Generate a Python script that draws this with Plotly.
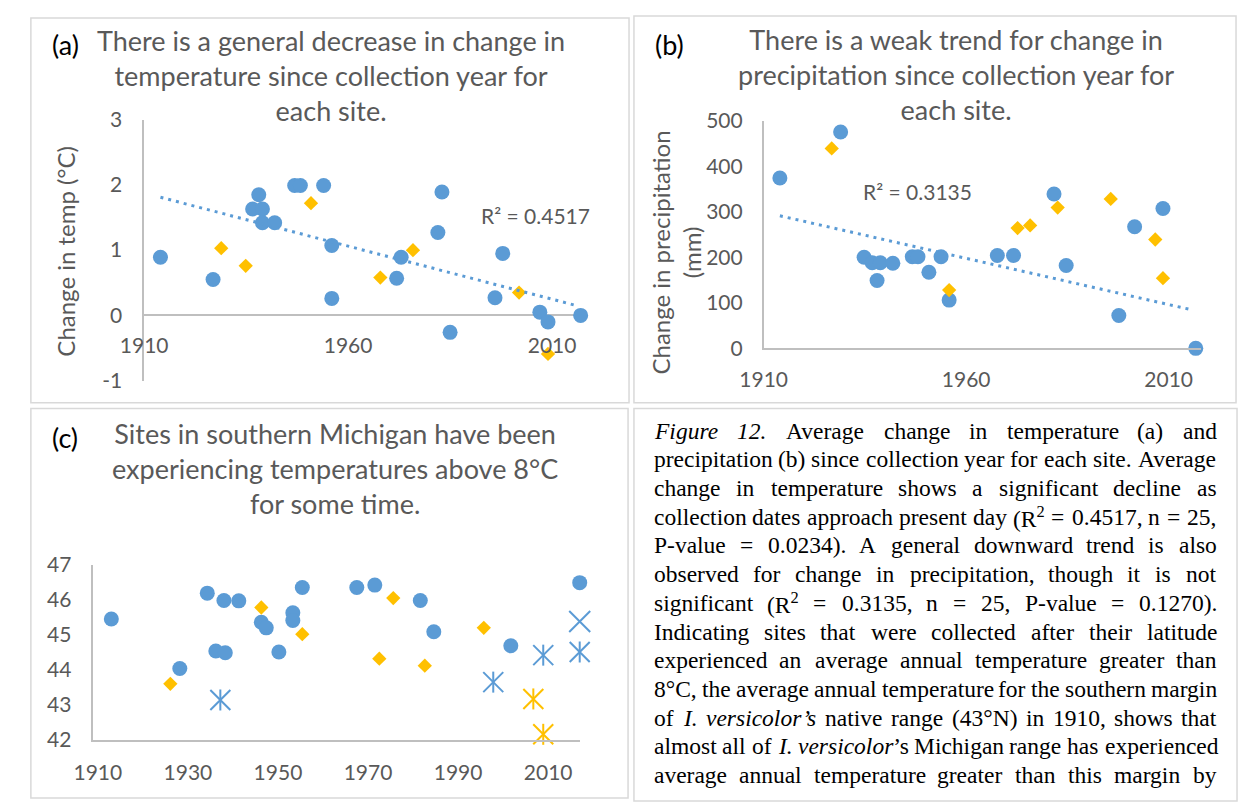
import re
import plotly.graph_objects as go

W, H = 1238, 811
BLUE = "#5B9BD5"
YEL = "#FFC000"
GREY = "#595959"
AXC = "#BFBFBF"
BORDER = "#D9D9D9"
FONT = "Lato"

# ---------------- Panel (a): change in temperature ----------------
a_blue_year = [1914, 1926.9, 1936.6, 1938.1, 1939, 1939, 1942, 1946.9, 1948.3, 1954, 1956, 1956,
               1971.9, 1973, 1982, 1983, 1985, 1996, 1997.9, 2007, 2009, 2017]
a_blue_dtemp = [0.89, 0.55, 1.63, 1.85, 1.63, 1.42, 1.42, 1.99, 1.99, 1.99, 1.07, 0.26,
                0.57, 0.89, 1.27, 1.89, -0.26, 0.27, 0.95, 0.05, -0.10, 0.0]
a_yel_year = [1928.9, 1934.9, 1950.9, 1967.9, 1975.9, 2001.9, 2009]
a_yel_dtemp = [1.03, 0.76, 1.72, 0.58, 1.00, 0.35, -0.59]
a_trend_year = [1914, 2016]
a_trend_dtemp = [1.81, 0.15]
a_ticks_x = [1910, 1960, 2010]
a_ticks_y = [-1, 0, 1, 2, 3]
a_ticktext_y = ["-1", "0", "1", "2", "3"]

# ---------------- Panel (b): change in precipitation ----------------
b_blue_year = [1914, 1929, 1934.8, 1936.8, 1938, 1938.8, 1941.9, 1946.7, 1948.1, 1950.8, 1953.8,
               1955.8, 1967.7, 1971.7, 1981.7, 1984.7, 1997.7, 2001.6, 2008.6, 2016.7]
b_blue_dprecip = [374, 475, 200, 188, 149, 188, 187, 201, 201, 167, 201,
                  106, 204, 204, 339, 182, 72, 267, 307, 0]
b_yel_year = [1926.8, 1955.8, 1972.7, 1975.8, 1982.6, 1995.7, 2006.7, 2008.6]
b_yel_dprecip = [439, 128, 264, 270, 309, 328, 239, 154]
b_trend_year = [1914, 2015.5]
b_trend_dprecip = [291, 85]
b_ticks_x = [1910, 1960, 2010]
b_ticks_y = [0, 100, 200, 300, 400, 500]

# ---------------- Panel (c): latitude of sites ----------------
c_blue_year = [1913, 1928.2, 1934.3, 1936.2, 1938.3, 1938, 1941.3, 1946.3, 1947.4, 1950.2, 1953.3,
               1953.3, 1955.4, 1967.5, 1971.5, 1981.6, 1984.6, 2001.7, 2017]
c_blue_lat = [45.45, 44.04, 46.19, 44.54, 44.49, 45.98, 45.97, 45.36, 45.20, 44.51, 45.63,
              45.41, 46.35, 46.35, 46.42, 45.98, 45.09, 44.69, 46.49]
c_yel_year = [1926.1, 1946.3, 1955.4, 1972.5, 1975.6, 1982.6, 1995.7]
c_yel_lat = [43.60, 45.78, 45.02, 44.32, 46.05, 44.12, 45.20]
c_bstar_year = [1937.2, 1997.8, 2008.9, 2017]
c_bstar_lat = [43.14, 43.65, 44.42, 44.51]
c_bx_year = [2017]
c_bx_lat = [45.38]
c_ystar_year = [2006.7, 2008.9]
c_ystar_lat = [43.17, 42.16]
c_ticks_x = [1910, 1930, 1950, 1970, 1990, 2010]
c_ticks_y = [42, 43, 44, 45, 46, 47]

titles = {
    "a": "There is a general decrease in change in<br>temperature since collection year for<br>each site.",
    "b": "There is a weak trend for change in<br>precipitation since collection year for<br>each site.",
    "c": "Sites in southern Michigan have been<br>experiencing temperatures above 8°C<br>for some time.",
}
r2_a = "R² = 0.4517"
r2_b = "R² = 0.3135"

caption_lines = [
    "<i>Figure 12.</i> Average change in temperature (a) and",
    "precipitation (b) since collection year for each site. Average",
    "change in temperature shows a significant decline as",
    "collection dates approach present day (R<sup>2</sup> = 0.4517, n = 25,",
    "P-value = 0.0234). A general downward trend is also",
    "observed for change in precipitation, though it is not",
    "significant (R<sup>2</sup> = 0.3135, n = 25, P-value = 0.1270).",
    "Indicating sites that were collected after their latitude",
    "experienced an average annual temperature greater than",
    "8°C, the average annual temperature for the southern margin",
    "of <i>I. versicolor’s</i> native range (43°N) in 1910, shows that",
    "almost all of <i>I. versicolor</i>’s Michigan range has experienced",
    "average annual temperature greater than this margin by",
]


def px(x):
    return x / W


def py(y):
    return 1 - y / H


fig = go.Figure()

# ---- traces (a)
fig.add_trace(go.Scatter(x=a_blue_year, y=a_blue_dtemp, mode="markers", xaxis="x", yaxis="y",
                         marker=dict(symbol="circle", size=15, color=BLUE, line=dict(width=0)),
                         cliponaxis=False, showlegend=False))
fig.add_trace(go.Scatter(x=a_yel_year, y=a_yel_dtemp, mode="markers", xaxis="x", yaxis="y",
                         marker=dict(symbol="diamond", size=11, color=YEL, line=dict(width=0)),
                         cliponaxis=False, showlegend=False))
fig.add_trace(go.Scatter(x=a_trend_year, y=a_trend_dtemp, mode="lines", xaxis="x", yaxis="y",
                         line=dict(color=BLUE, width=3, dash="3px,5px"), showlegend=False))

# ---- traces (b)
fig.add_trace(go.Scatter(x=b_blue_year, y=b_blue_dprecip, mode="markers", xaxis="x2", yaxis="y2",
                         marker=dict(symbol="circle", size=15, color=BLUE, line=dict(width=0)),
                         cliponaxis=False, showlegend=False))
fig.add_trace(go.Scatter(x=b_yel_year, y=b_yel_dprecip, mode="markers", xaxis="x2", yaxis="y2",
                         marker=dict(symbol="diamond", size=11, color=YEL, line=dict(width=0)),
                         cliponaxis=False, showlegend=False))
fig.add_trace(go.Scatter(x=b_trend_year, y=b_trend_dprecip, mode="lines", xaxis="x2", yaxis="y2",
                         line=dict(color=BLUE, width=3, dash="3px,5px"), showlegend=False))

# ---- traces (c)
fig.add_trace(go.Scatter(x=c_blue_year, y=c_blue_lat, mode="markers", xaxis="x3", yaxis="y3",
                         marker=dict(symbol="circle", size=15, color=BLUE, line=dict(width=0)),
                         cliponaxis=False, showlegend=False))
fig.add_trace(go.Scatter(x=c_yel_year, y=c_yel_lat, mode="markers", xaxis="x3", yaxis="y3",
                         marker=dict(symbol="diamond", size=11, color=YEL, line=dict(width=0)),
                         cliponaxis=False, showlegend=False))
for xs, ys, col in [(c_bstar_year, c_bstar_lat, BLUE), (c_ystar_year, c_ystar_lat, YEL)]:
    fig.add_trace(go.Scatter(x=xs, y=ys, mode="markers", xaxis="x3", yaxis="y3",
                             marker=dict(symbol="x-thin-open", size=20, color=col,
                                         line=dict(width=2, color=col)),
                             cliponaxis=False, showlegend=False))
    fig.add_trace(go.Scatter(x=xs, y=ys, mode="markers", xaxis="x3", yaxis="y3",
                             marker=dict(symbol="line-ns-open", size=15, color=col,
                                         line=dict(width=2, color=col)),
                             cliponaxis=False, showlegend=False))
fig.add_trace(go.Scatter(x=c_bx_year, y=c_bx_lat, mode="markers", xaxis="x3", yaxis="y3",
                         marker=dict(symbol="x-thin-open", size=21, color=BLUE,
                                     line=dict(width=2, color=BLUE)),
                         cliponaxis=False, showlegend=False))

tickfont = dict(family=FONT, size=21, color=GREY)

# ---- axes
fig.update_layout(
    xaxis=dict(domain=[px(122.5), px(573.9)], range=[1910, 2018.5], anchor="free", position=py(311),
               tickvals=a_ticks_x, showline=False, zeroline=False, showgrid=False, ticks="",
               tickfont=tickfont, ticklabelstandoff=16),
    yaxis=dict(domain=[py(378.3), py(109)], range=[-1, 3], tickvals=a_ticks_y, ticktext=a_ticktext_y,
               anchor="x", showline=True, linecolor=AXC, linewidth=1.5, zeroline=True,
               zerolinecolor=AXC, zerolinewidth=1.5, showgrid=False, ticks="", tickfont=tickfont,
               ticklabelstandoff=16),
    xaxis2=dict(domain=[px(754.3), px(1200.3)], range=[1910, 2018], anchor="y2",
                tickvals=b_ticks_x, showline=True, linecolor=AXC, linewidth=1.5, zeroline=False,
                showgrid=False, ticks="", tickfont=tickfont, ticklabelstandoff=12),
    yaxis2=dict(domain=[py(345), py(110)], range=[0, 500], tickvals=b_ticks_y, anchor="x2",
                showline=True, linecolor=AXC, linewidth=1.5, zeroline=False, showgrid=False,
                ticks="", tickfont=tickfont, ticklabelstandoff=15),
    xaxis3=dict(domain=[px(70.7), px(566.7)], range=[1909, 2017], anchor="y3",
                tickvals=c_ticks_x, showline=True, linecolor=AXC, linewidth=1.5, zeroline=False,
                showgrid=False, ticks="", tickfont=tickfont, ticklabelstandoff=13),
    yaxis3=dict(domain=[py(749), py(568.3)], range=[42, 47], tickvals=c_ticks_y, anchor="x3",
                showline=True, linecolor=AXC, linewidth=1.5, zeroline=False, showgrid=False,
                ticks="", tickfont=tickfont, ticklabelstandoff=16),
)

# ---- borders
shapes = []
for x0, y0, x1, y1 in [(7, 4, 617, 401), (622, 2, 1236, 401), (7, 407, 616, 809), (622, 407, 1237, 812)]:
    shapes.append(dict(type="rect", xref="paper", yref="paper", x0=px(x0), x1=px(x1), y0=py(y1), y1=py(y0),
                       line=dict(color=BORDER, width=1.5), fillcolor="rgba(0,0,0,0)", layer="below"))

annotations = []
tfont = dict(family=FONT, size=27, color=GREY)
lfont = dict(family=FONT, size=27, color="black")
for key, cx, cy in [("a", 313, 63), ("b", 950, 62), ("c", 317, 469)]:
    annotations.append(dict(text=titles[key], x=px(cx), y=py(cy), xref="paper", yref="paper",
                            xanchor="center", yanchor="middle", showarrow=False, font=tfont, align="center"))
for lab, cx, cy in [("(a)", 42, 31), ("(b)", 658.5, 31), ("(c)", 42, 437)]:
    annotations.append(dict(text=lab, x=px(cx), y=py(cy), xref="paper", yref="paper",
                            xanchor="center", yanchor="middle", showarrow=False, font=lfont))

afont = dict(family=FONT, size=24, color=GREY)
annotations.append(dict(text="Change in temp (°C)", x=px(42), y=py(245), xref="paper", yref="paper",
                        textangle=-90, xanchor="center", yanchor="middle", showarrow=False, font=afont))
annotations.append(dict(text="Change in precipitation<br>(mm)", x=px(665), y=py(246), xref="paper",
                        yref="paper", textangle=-90, xanchor="center", yanchor="middle",
                        showarrow=False, font=afont, align="center"))

rfont = dict(family=FONT, size=21, color=GREY)
annotations.append(dict(text=r2_a, x=2005.9, y=1.53, xref="x", yref="y", showarrow=False, font=rfont,
                        xanchor="center", yanchor="middle"))
annotations.append(dict(text=r2_b, x=1948.1, y=344, xref="x2", yref="y2", showarrow=False, font=rfont,
                        xanchor="center", yanchor="middle"))

# ---- caption (justified, word by word using Times metrics)
ROMAN = {' ': 250, '(': 333, ')': 333, ',': 250, '-': 333, '.': 250, '=': 564, '°': 400, '’': 333,
         'A': 722, 'C': 667, 'F': 556, 'I': 333, 'M': 889, 'N': 722, 'P': 556, 'R': 667,
         'a': 444, 'b': 500, 'c': 444, 'd': 500, 'e': 444, 'f': 333, 'g': 500, 'h': 500, 'i': 278,
         'j': 278, 'k': 500, 'l': 278, 'm': 778, 'n': 500, 'o': 500, 'p': 500, 'q': 500, 'r': 333,
         's': 389, 't': 278, 'u': 500, 'v': 500, 'w': 722, 'x': 500, 'y': 500, 'z': 444}
ITAL = dict(ROMAN)
ITAL.update({'F': 611, 'a': 500, 'r': 389, 'v': 444, 'f': 278})
for d in "0123456789":
    ROMAN[d] = 500
    ITAL[d] = 500

CAP_F = 23.5
CAP_X0, CAP_X1 = 641.7, 1214.4
CAP_Y0, CAP_DY = 430, 29.6
cfont = dict(family="Liberation Serif", size=CAP_F, color="black")


def parse_words(line):
    words, cur = [], []
    ital = sup = False
    i = 0
    while i < len(line):
        m = re.match(r"</?(i|sup)>", line[i:])
        if m:
            tag = m.group(0)
            if tag == "<i>":
                ital = True
            elif tag == "</i>":
                ital = False
            elif tag == "<sup>":
                sup = True
            else:
                sup = False
            i += len(tag)
            continue
        ch = line[i]
        if ch == " ":
            if cur:
                words.append(cur)
            cur = []
        else:
            cur.append((ch, ital, sup))
        i += 1
    if cur:
        words.append(cur)
    return words


def word_html(word):
    out, i = "", 0
    while i < len(word):
        j = i
        while j < len(word) and word[j][1:] == word[i][1:]:
            j += 1
        seg = "".join(c for c, _, _ in word[i:j])
        if word[i][2]:
            seg = "<sup>" + seg + "</sup>"
        if word[i][1]:
            seg = "<i>" + seg + "</i>"
        out += seg
        i = j
    return out


def word_width(word):
    w = 0
    for ch, it, sp in word:
        tab = ITAL if it else ROMAN
        w += tab.get(ch, 500) * (0.7 if sp else 1.0)
    return w * CAP_F / 1000.0


for k, line in enumerate(caption_lines):
    words = parse_words(line)
    widths = [word_width(wd) for wd in words]
    L = CAP_X1 - CAP_X0
    gap = (L - sum(widths)) / (len(words) - 1)
    gap = max(gap, 0.25 * CAP_F)
    x = CAP_X0
    yc = CAP_Y0 + k * CAP_DY
    for wd, ww in zip(words, widths):
        annotations.append(dict(text=word_html(wd), x=px(x), y=py(yc), xref="paper", yref="paper",
                                xanchor="left", yanchor="middle", showarrow=False, font=cfont,
                                borderpad=0))
        x += ww + gap

fig.update_layout(
    width=W, height=H, autosize=False,
    margin=dict(l=0, r=0, t=0, b=0, pad=0),
    paper_bgcolor="white", plot_bgcolor="white",
    shapes=shapes, annotations=annotations,
    font=dict(family=FONT, color=GREY),
)

fig.write_html("out.html", config={"displayModeBar": False},
               post_script="document.body.style.margin='0';document.body.style.overflow='hidden';")
